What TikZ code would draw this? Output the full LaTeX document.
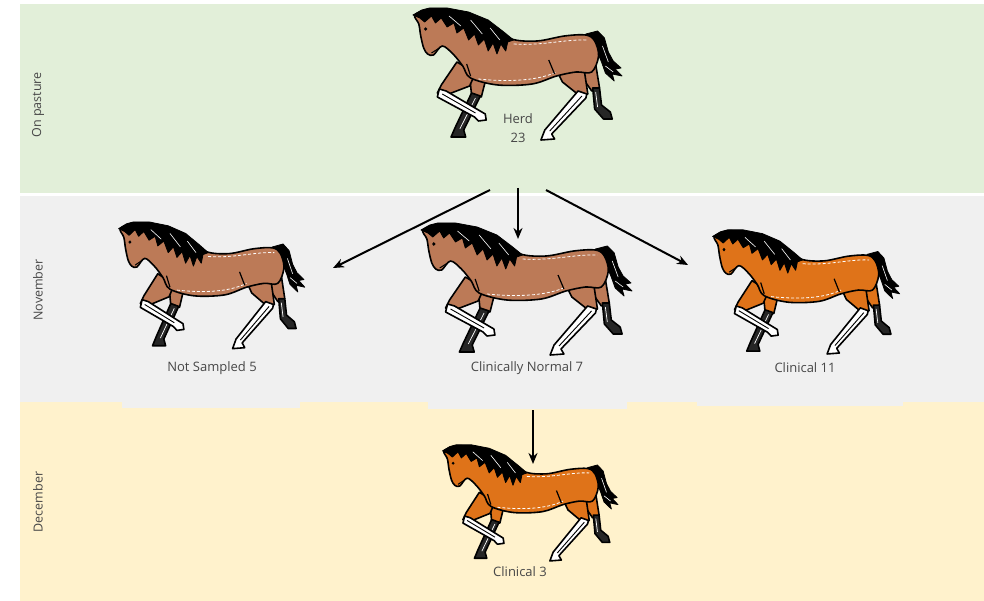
\documentclass[tikz,border=0pt]{standalone}
\usepackage{fontspec}
\setmainfont{Open Sans}
\usetikzlibrary{arrows.meta}
\definecolor{pasture}{HTML}{E2EFD9}
\definecolor{novband}{HTML}{F0F0F0}
\definecolor{decband}{HTML}{FFF2CC}
\definecolor{coatbrown}{HTML}{BC7A57}
\definecolor{coatorange}{HTML}{DF7319}
\definecolor{labelgrey}{HTML}{474747}

\tikzset{
  outline/.style={draw=black, line width=1.6pt, line join=round, line cap=round},
  coat/.style={outline, fill=#1},
  sock/.style={outline, fill=white},
  darksock/.style={outline, fill=black!85},
  hair/.style={fill=black, draw=black, line width=0.8pt, line join=round},
  lbl/.style={text=labelgrey, font=\fontsize{13}{18.5}\selectfont, align=center},
  side/.style={text=labelgrey, font=\fontsize{12.5}{15}\selectfont, rotate=90},
  flow/.style={line width=2pt, -{Stealth[length=11pt,width=9pt]}},
  % a trotting horse drawn in its own frame: x right, y down, about 215 x 131
  pics/horse/.style={code={
    % tail
    \filldraw[hair] (180,28) -- (192,25) -- (199,32) -- (203,46) -- (208,55)
      -- (216,62) -- (210,63) -- (217,70) -- (207,68) -- (209,75) -- (200,67)
      -- (196,56) -- (191,44) -- (186,36) -- cycle;
    \draw[white, line width=0.6pt] (197,40) -- (203,56) (200,60) -- (208,66);
    % far hind leg
    \filldraw[coat=#1] (172,55) -- (190,58) -- (194,82) -- (186,85) -- (178,74) -- cycle;
    \filldraw[darksock] (187,82) -- (194,82) -- (196,99) -- (205,106) -- (207,113)
      -- (198,113) -- (189,103) -- cycle;
    \draw[white, line width=0.7pt] (190,86) -- (192,101);
    % near hind leg
    \filldraw[coat=#1] (146,56) -- (178,62) -- (182,88) -- (174,90) -- (156,76) -- cycle;
    \filldraw[sock] (172,85) -- (181,88) -- (180,92) -- (145,128) -- (148,133)
      -- (134,134) -- (138,124) -- cycle;
    \draw[line width=0.9pt] (176,90) -- (143,125);
    % supporting foreleg
    \filldraw[coat=#1] (60,60) -- (80,64) -- (73,91) -- (63,89) -- cycle;
    \filldraw[darksock] (63,87) -- (72,90) -- (55,124) -- (57,131) -- (42,131)
      -- (46,122) -- cycle;
    \draw[white, line width=0.7pt] (67,92) -- (51,123);
    % raised foreleg
    \filldraw[coat=#1] (48,56) -- (67,67) -- (61,80) -- (37,89) -- (28,87) -- (32,79) -- cycle;
    \filldraw[sock] (30,83) -- (37,85) -- (70,104) -- (77,108) -- (78,114)
      -- (70,115) -- (66,111) -- (28,91) -- cycle;
    \draw[line width=0.9pt] (33,88) -- (67,107);
    % body, neck and head
    \filldraw[coat=#1] plot[smooth cycle, tension=0.55] coordinates {
      (24,49) (33,40) (44,48) (54,60) (62,72) (90,79) (125,78) (150,70)
      (170,66) (186,66) (193,50) (189,35) (180,29) (158,30) (130,35)
      (104,33) (86,20) (60,8) (32,4) (20,3) (5,9) (9,18) (11,30) (14,42) (18,48)};
    % white highlights along the coat
    \draw[white, line width=0.8pt, dash pattern=on 3pt off 2pt]
      (106,38) .. controls (135,40) and (160,33) .. (182,34);
    \draw[white, line width=0.8pt, dash pattern=on 3pt off 2pt]
      (70,73) .. controls (100,76) and (130,75) .. (150,66);
    % mane
    \filldraw[hair] (3,9) -- (12,4) -- (20,2) -- (38,2) -- (60,6) -- (80,14)
      -- (96,26) -- (106,34) -- (100,36) -- (98,45) -- (93,38) -- (89,48)
      -- (85,37) -- (80,45) -- (76,33) -- (70,39) -- (66,28) -- (60,34)
      -- (55,22) -- (48,27) -- (45,17) -- (38,21) -- (32,12) -- (26,17)
      -- (22,10) -- (15,16) -- (10,12) -- cycle;
    \draw[white, line width=0.6pt] (40,10) -- (52,20) (62,14) -- (74,28) (82,22) -- (92,34);
    % eye, jaw and stifle lines
    \fill (16,23) circle (1.8);
    \draw[line width=1pt] (22,47) -- (30,42);
    \draw[line width=1.2pt] (142,54) -- (148,68);
    \draw[line width=1.2pt] (58,58) -- (62,70);
  }}
}

\begin{document}
\begin{tikzpicture}[x=1pt, y=-1pt]
  \useasboundingbox (0,0) rectangle (984,601);
  \fill[white] (0,0) rectangle (984,601);

  % the three time bands
  \fill[pasture] (20,4) rectangle (984,193);
  \fill[novband] (20,196) rectangle (984,402);
  \fill[decband] (20,402) rectangle (984,601);
  \fill[novband] (122,400) rectangle (300,408);
  \fill[novband] (428,400) rectangle (627,409);
  \fill[novband] (697,400) rectangle (903,406);

  % band titles
  \node[side] (tpasture) at (38,105) {On pasture};
  \node[side] (tnov) at (38,290) {November};
  \node[side] (tdec) at (38,502) {December};

  % horses
  \pic[xscale=0.977, yscale=1.0] (herd) at (410,6) {horse=coatbrown};
  \pic[xscale=0.87, yscale=0.96] (notsampled) at (116,220) {horse=coatbrown};
  \pic[xscale=0.986, yscale=1.0] (normal) at (418,221) {horse=coatbrown};
  \pic[xscale=0.874, yscale=0.94] (clinical) at (710,228) {horse=coatorange};
  \pic[xscale=0.82, yscale=0.88] (december) at (440,443) {horse=coatorange};

  % counts
  \node[lbl] (lherd) at (518,128) {Herd\\23};
  \node[lbl] (lns) at (212,368) {Not Sampled 5};
  \node[lbl] (lcn) at (527,368) {Clinically Normal 7};
  \node[lbl] (lcl) at (805,368) {Clinical 11};
  \node[lbl] (ldec) at (520,572) {Clinical 3};

  % connector ends
  \coordinate (herdL) at (490,190);
  \coordinate (herdM) at (518,188);
  \coordinate (herdR) at (546,190);
  \coordinate (nsIn) at (333,268);
  \coordinate (cnIn) at (518,239);
  \coordinate (clIn) at (688,265);
  \coordinate (cnOut) at (533,410);
  \coordinate (decIn) at (533,464);

  \draw[flow] (herdL) -- (nsIn);
  \draw[flow] (herdM) -- (cnIn);
  \draw[flow] (herdR) -- (clIn);
  \draw[flow] (cnOut) -- (decIn);
\end{tikzpicture}
\end{document}
